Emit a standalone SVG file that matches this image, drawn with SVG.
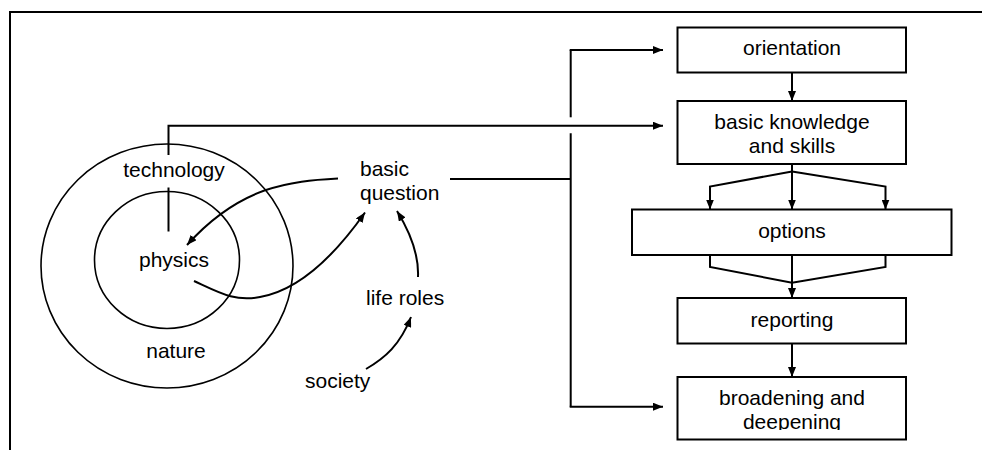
<svg xmlns="http://www.w3.org/2000/svg" width="982" height="450" viewBox="0 0 982 450">
<style>
  text { font-family: "Liberation Sans", Arial, sans-serif; font-size: 21px; fill: #000; }
  .c { text-anchor: middle; }
  .box { fill: #fff; stroke: #000; stroke-width: 2; }
  .ring { fill: none; stroke: #000; stroke-width: 1.6; }
  .ln { fill: none; stroke: #000; stroke-width: 2; }
  .ar { fill: none; stroke: #000; stroke-width: 2; marker-end: url(#ah); }
</style>
<defs>
  <marker id="ah" viewBox="0 0 10 8" refX="10" refY="4" markerWidth="10" markerHeight="8" markerUnits="userSpaceOnUse" orient="auto">
    <path d="M0,0 L10,4 L0,8 z" fill="#000"/>
  </marker>
  <clipPath id="clipB"><rect x="677" y="377" width="229" height="53"/></clipPath>
</defs>
<rect width="982" height="450" fill="#fff"/>
<g id="frame">
  <path class="ln" d="M10,450 L10,12 L982,12"/>
</g>
<g id="nature">
  <ellipse class="ring" cx="167" cy="266" rx="126" ry="122"/>
  <text class="c" x="176" y="358">nature</text>
</g>
<g id="physics">
  <ellipse class="ring" cx="167" cy="260" rx="72.5" ry="68.5"/>
  <text class="c" x="174" y="267">physics</text>
</g>
<g id="technology">
  <text class="c" x="174" y="177">technology</text>
</g>
<g id="basic-question">
  <text x="360" y="176">basic</text>
  <text x="360" y="200">question</text>
</g>
<g id="life-roles">
  <text x="366" y="305">life roles</text>
</g>
<g id="society">
  <text x="305" y="388">society</text>
</g>
<g id="orientation">
  <rect class="box" x="677.5" y="27.5" width="228.5" height="45"/>
  <text class="c" x="792" y="55">orientation</text>
</g>
<g id="basic-knowledge">
  <rect class="box" x="677.5" y="101" width="228.5" height="63"/>
  <text class="c" x="792" y="129">basic knowledge</text>
  <text class="c" x="792" y="153">and skills</text>
</g>
<g id="options">
  <rect class="box" x="632" y="209.5" width="319.5" height="45.5"/>
  <text class="c" x="792" y="237.5">options</text>
</g>
<g id="reporting">
  <rect class="box" x="677.5" y="298" width="228.5" height="45.5"/>
  <text class="c" x="792" y="327">reporting</text>
</g>
<g id="broadening">
  <rect class="box" x="677.5" y="377" width="228.5" height="62.5"/>
  <g clip-path="url(#clipB)">
    <text class="c" x="792" y="404.5">broadening and</text>
    <text class="c" x="792" y="428.5">deepening</text>
  </g>
</g>
<g id="connectors">
  <path class="ln" d="M168.5,231.5 L168.5,187.5"/>
  <path class="ar" d="M168.5,155 L168.5,125.7 L663,125.7"/>
  <path class="ln" d="M450,179 L570.7,179"/>
  <path class="ln" d="M570.7,117.3 L570.7,50"/>
  <path class="ln" d="M570.7,133.3 L570.7,406.7"/>
  <path class="ar" d="M569.7,50 L663,50"/>
  <path class="ar" d="M569.7,406.7 L663,406.7"/>
  <path class="ar" d="M792,72.5 L792,101"/>
  <path class="ar" d="M792,164 L792,209.5"/>
  <path class="ar" d="M792,171.5 L710,186.5 L710,209.5"/>
  <path class="ar" d="M792,171.5 L885.5,186.5 L885.5,209.5"/>
  <path class="ln" d="M710,255 L710,267 L792,282.7 L885.5,267 L885.5,255"/>
  <path class="ar" d="M792,255 L792,298"/>
  <path class="ar" d="M792,343.5 L792,377"/>
  <path class="ar" d="M338,178.5 C 290,181 240,186 187,245"/>
  <path class="ar" d="M194,281 C 220,293 235,302 260,297 C 300,290 335,255 365,212.5"/>
  <path class="ar" d="M418,277 C 419,255 410,232 397,211"/>
  <path class="ar" d="M366,369 C 385,358 400,345 411,317"/>
</g>
</svg>
